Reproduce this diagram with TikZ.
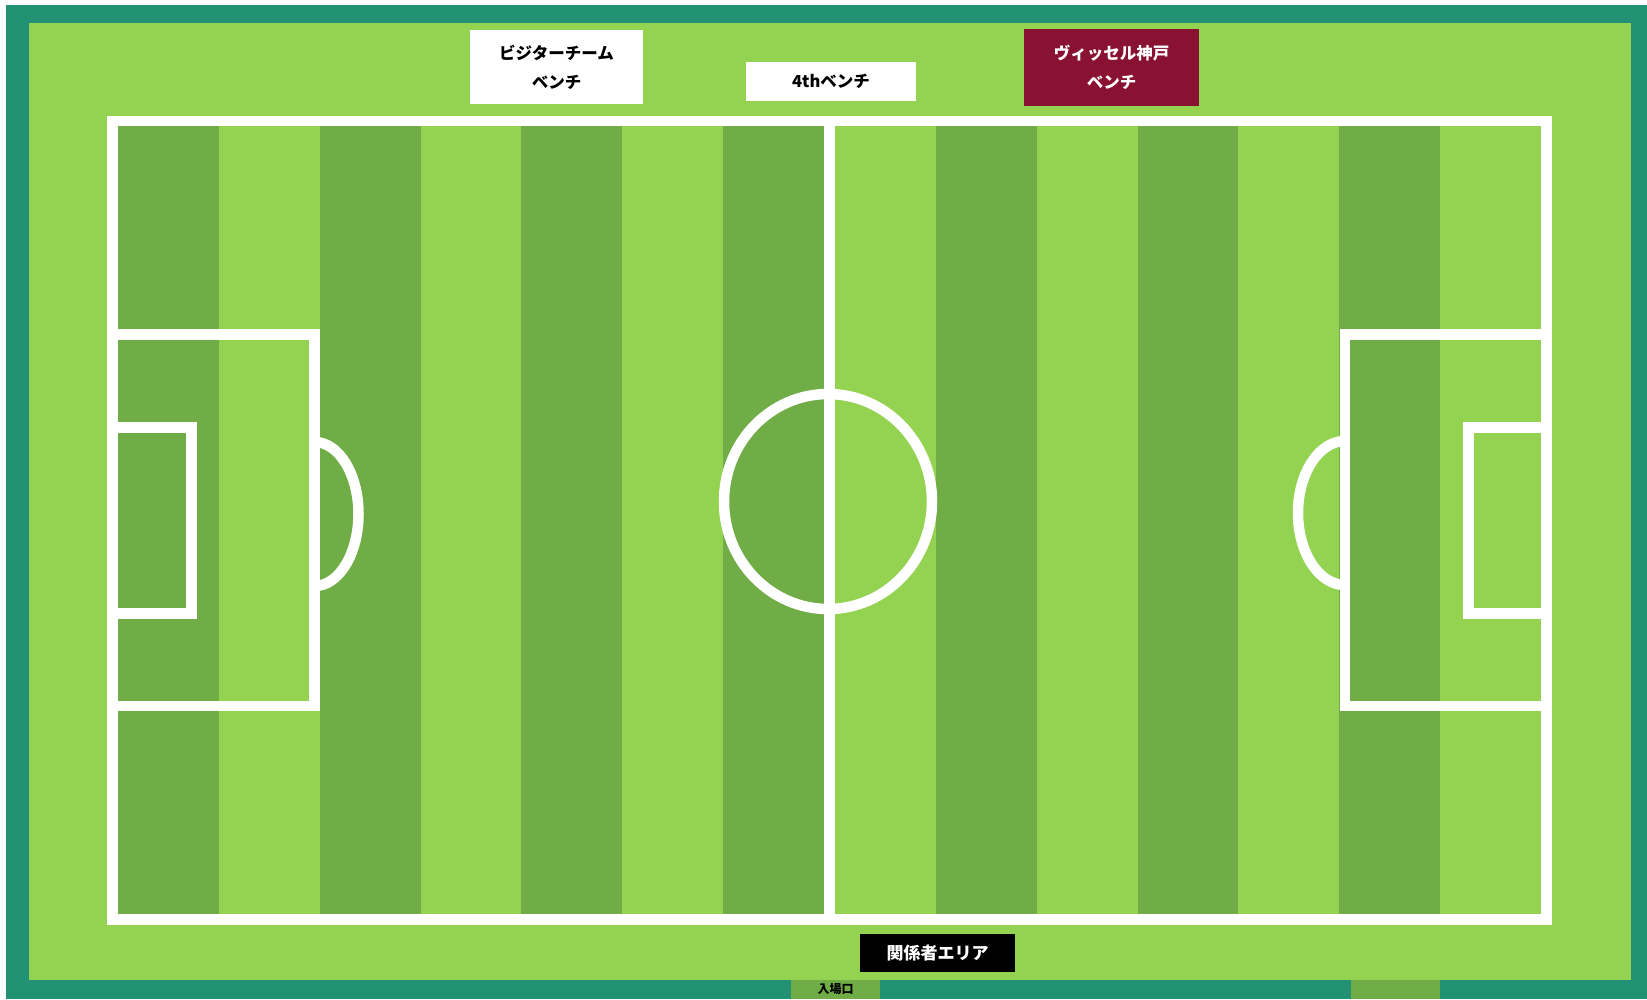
\documentclass[tikz,border=0pt]{standalone}
\usepackage{fontspec}
\newfontfamily\jp{Noto Sans CJK JP}
\usetikzlibrary{positioning}
\definecolor{standteal}{RGB}{35,145,115}
\definecolor{grasslight}{RGB}{148,210,81}
\definecolor{grassdark}{RGB}{112,173,71}
\definecolor{visselred}{RGB}{137,18,51}

\begin{document}
\begin{tikzpicture}[
        x=1pt, y=-1pt,
        pitchline/.style={
            draw=white,
            line width=10.5pt
        },
        bench/.style={
            fill=white,
            align=center,
            inner sep=0pt,
            font=\jp\bfseries\fontsize{16.5}{29}\selectfont
        },
        gate/.style={
            fill=grassdark,
            inner sep=0pt,
            minimum width=89pt,
            minimum height=19pt,
            font=\jp\bfseries\fontsize{12}{14}\selectfont
        }
    ]

        \useasboundingbox (0,0) rectangle (1647,999);
        \fill[white] (0,0) rectangle (1647,999);
        \fill[standteal] (6,5) rectangle (1647,999);
        \fill[grasslight] (29,23) rectangle (1631,980);

        \foreach \i in {0,2,...,6}
            \fill[grassdark] ({118+\i*100.86},116) rectangle ({118+(\i+1)*100.86},924);
        \foreach \i in {1,3,5}
            \fill[grassdark] ({835+\i*100.86},116) rectangle ({835+(\i+1)*100.86},924);

        \draw[pitchline] (112.5,121) rectangle (1546.5,919.5);
        \draw[pitchline] (829.5,121) -- (829.5,919.5);
        \draw[pitchline] (828,501.5) ellipse[x radius=104, y radius=107.5];

        \draw[pitchline] (112.5,334.5) rectangle (314.5,706);
        \draw[pitchline] (112.5,427.5) rectangle (191.5,613.5);
        \begin{scope}
            \clip (314.5,400) rectangle (420,640);
            \draw[pitchline] (314.5,514) ellipse[x radius=44, y radius=72];
        \end{scope}

        \draw[pitchline] (1345,334.5) rectangle (1546.5,706);
        \draw[pitchline] (1468.5,427.5) rectangle (1546.5,613.5);
        \begin{scope}
            \clip (1240,400) rectangle (1345,640);
            \draw[pitchline] (1345,513) ellipse[x radius=47, y radius=72];
        \end{scope}

        \node[bench, minimum width=173pt, minimum height=74pt] (visitor)
            at (556.5,67) {ビジターチーム\\ベンチ};

        \node[bench, minimum width=170pt, minimum height=39pt] (fourth)
            at (831,81.5) {4thベンチ};

        \node[bench, fill=visselred, text=white,
              minimum width=175pt, minimum height=77pt] (vissel)
            at (1111.5,67.5) {ヴィッセル神戸\\ベンチ};

        \node[bench, fill=black, text=white, font=\jp\bfseries\fontsize{17}{20}\selectfont,
              minimum width=155pt, minimum height=38pt] (staff)
            at (937.5,953) {関係者エリア};

        \node[gate] (entrance) at (835.5,989.5) {入場口};
        \node[gate] (gate2) at (1395.5,989.5) {};

    \end{tikzpicture}
\end{document}
